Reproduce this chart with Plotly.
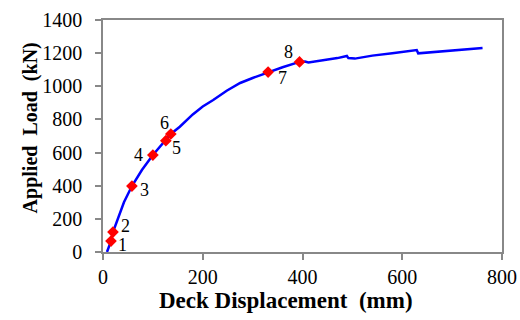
import plotly.graph_objects as go

# Load-displacement curve
curve_disp = [8, 12, 16, 20, 30, 42, 58, 78, 100, 126, 136, 154, 180, 200, 221, 248, 275, 300,
              331, 360, 394, 405, 412, 440, 470, 489, 492, 505, 540, 580, 629, 632, 680, 720, 761]
curve_load = [0, 30, 66, 120, 200, 300, 398, 495, 585, 672, 712, 756, 830, 878, 917, 973, 1020, 1050,
              1086, 1115, 1147, 1150, 1144, 1155, 1170, 1183, 1170, 1167, 1185, 1200, 1219, 1199, 1212, 1222, 1231]

# Marked points
pt_labels = ["1", "2", "3", "4", "5", "6", "7", "8"]
pt_disp = [16, 20, 58, 100, 126, 136, 331, 394]
pt_load = [66, 120, 398, 585, 672, 712, 1086, 1147]

x_ticks = [0, 200, 400, 600, 800]
y_ticks = [0, 200, 400, 600, 800, 1000, 1200, 1400]

x_title = "<b>Deck Displacement  (mm)</b>"
y_title = "<b>Applied  Load  (kN)</b>"

label_shift = [(12, -4), (13, 6), (13, -4), (-14, 0), (11, -7), (-6, 11), (14, -6), (-11, 10)]

fig = go.Figure()
fig.add_trace(go.Scatter(x=curve_disp, y=curve_load, mode="lines",
                         line=dict(color="#0000ff", width=2.5), showlegend=False))
fig.add_trace(go.Scatter(x=pt_disp, y=pt_load, mode="markers",
                         marker=dict(symbol="diamond", color="#ff0000", size=9),
                         showlegend=False))

for lab, xv, yv, (dx, dy) in zip(pt_labels, pt_disp, pt_load, label_shift):
    fig.add_annotation(x=xv, y=yv, text=lab, showarrow=False, xshift=dx, yshift=dy,
                       font=dict(family="Liberation Serif", size=18, color="#000000"))

# axis titles (placed as annotations to match the reference offsets)
fig.add_annotation(xref="paper", yref="paper", x=0.459, y=-0.21, yanchor="middle",
                   xanchor="center", text=x_title, showarrow=False,
                   font=dict(family="Liberation Serif", size=23, color="#000000"))
fig.add_annotation(xref="paper", yref="paper", x=-0.183, y=0.537, xanchor="center",
                   yanchor="middle", text=y_title, showarrow=False, textangle=-90,
                   font=dict(family="Liberation Serif", size=20, color="#000000"))

axis_common = dict(showgrid=False, zeroline=False, showline=True, linecolor="#888888",
                   linewidth=1.5, mirror=True, ticks="outside", ticklen=6, tickcolor="#888888",
                   tickwidth=1.5, automargin=False,
                   tickfont=dict(family="Liberation Serif", size=20, color="#000000"))

fig.update_layout(
    width=520, height=320,
    margin=dict(l=103, r=18, t=20, b=68),
    plot_bgcolor="white", paper_bgcolor="white",
    xaxis=dict(range=[0, 800], tickvals=x_ticks, **axis_common),
    yaxis=dict(range=[0, 1400], tickvals=y_ticks, ticklabelstandoff=9, **axis_common),
)

fig.write_html("out.html", config={"displayModeBar": False},
               post_script="document.body.style.margin='0';document.body.style.overflow='hidden';")
